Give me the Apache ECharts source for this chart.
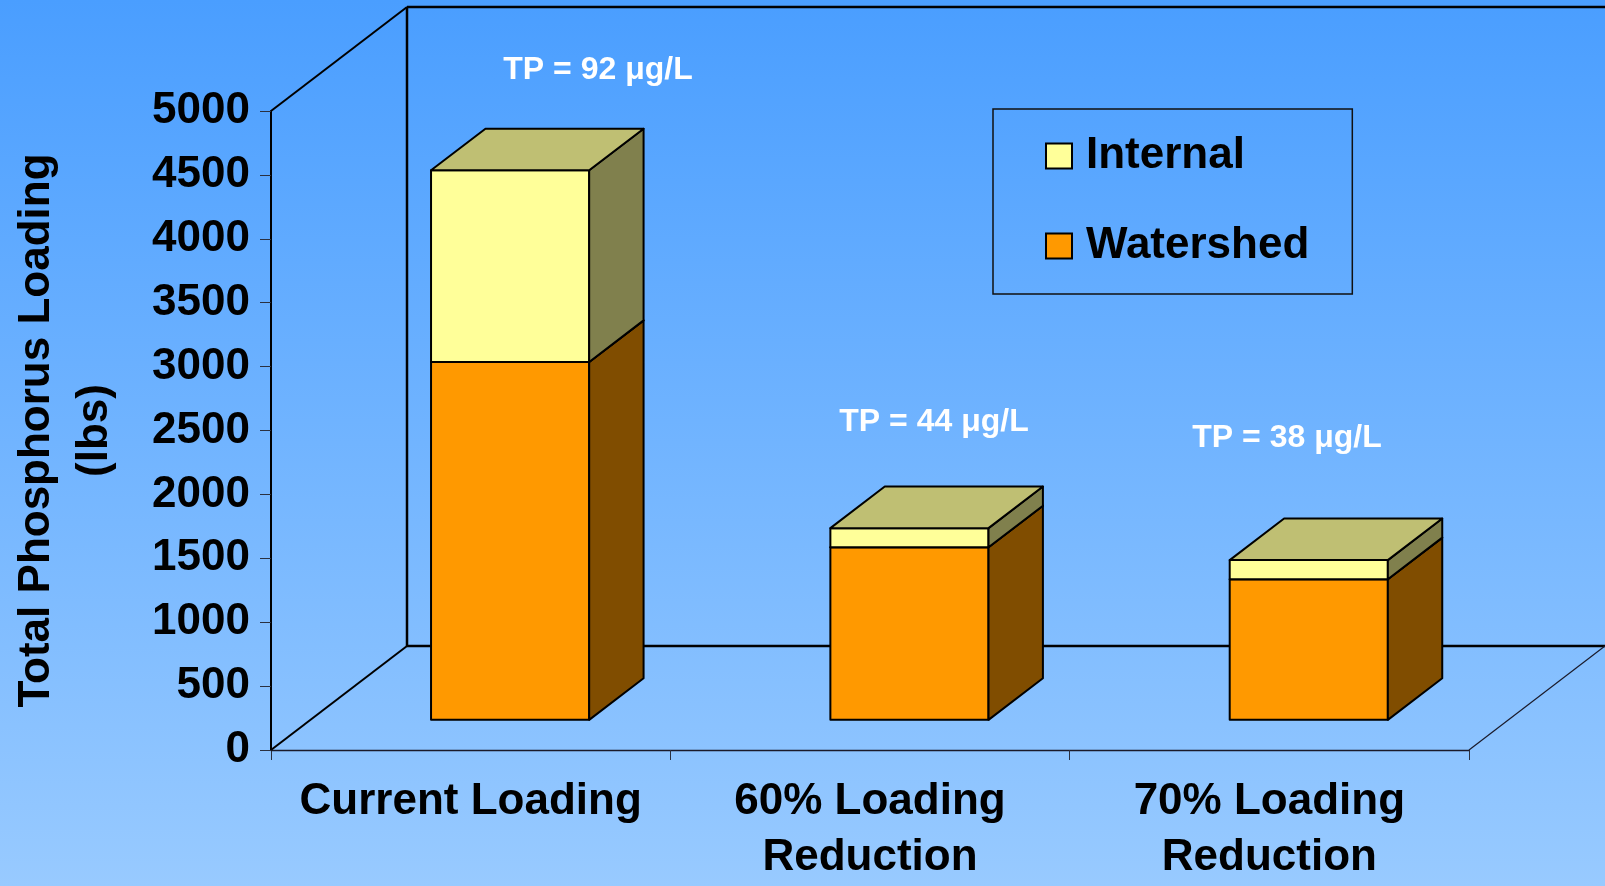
<!DOCTYPE html>
<html>
<head>
<meta charset="utf-8">
<script src="https://cdn.jsdelivr.net/npm/echarts@6/dist/echarts.min.js"></script>
<style>
html,body{margin:0;padding:0;width:1605px;height:886px;overflow:hidden;}
#chart{width:1605px;height:886px;}
</style>
</head>
<body>
<div id="chart"></div>
<script>
// ---- data ----
const categories = ['Current Loading', '60% Loading\nReduction', '70% Loading\nReduction'];
const watershed = [2800, 1350, 1100];
const internal = [1500, 150, 150];
const tpLabels = ['TP = 92 μg/L', 'TP = 44 μg/L', 'TP = 38 μg/L'];
const yMin = 0, yMax = 5000, yStep = 500;
const seriesNames = ['Internal', 'Watershed'];

// ---- layout / style constants ----
const FONT = 'Liberation Sans, Arial, Helvetica, sans-serif';
const DX = 136, DY = -104;      // depth of the 3D box (pixels)
const F0 = 0.29, F1 = 0.69;     // bar front/back depth fractions
const BW = 0.396;               // bar width as fraction of band
const colWater = {front: '#FF9900', side: '#804D00', top: '#BF7300'};
const colInt = {front: '#FFFF99', side: '#80804D', top: '#BFBF73'};

const chart = echarts.init(document.getElementById('chart'));

function boxShape(api, idx, v0, v1, col) {
  const band = api.size([1, 0])[0];
  const c0 = api.coord([idx, v0]);
  const c1 = api.coord([idx, v1]);
  const cx = c0[0] + F0 * DX;
  const half = BW * band / 2;
  const xl = cx - half, xr = cx + half;
  const yb = c0[1] + F0 * DY, yt = c1[1] + F0 * DY;
  const sdx = (F1 - F0) * DX, sdy = (F1 - F0) * DY;
  const st = {stroke: '#000', lineWidth: 2, lineJoin: 'round'};
  return {
    type: 'group',
    children: [
      {type: 'polygon', shape: {points: [[xl, yb], [xr, yb], [xr, yt], [xl, yt]]},
       style: Object.assign({fill: col.front}, st)},
      {type: 'polygon', shape: {points: [[xr, yb], [xr + sdx, yb + sdy], [xr + sdx, yt + sdy], [xr, yt]]},
       style: Object.assign({fill: col.side}, st)},
      {type: 'polygon', shape: {points: [[xl, yt], [xr, yt], [xr + sdx, yt + sdy], [xl + sdx, yt + sdy]]},
       style: Object.assign({fill: col.top}, st)}
    ]
  };
}

function wallsRender(params, api) {
  const band = api.size([1, 0])[0];
  const p0 = api.coord([0, yMin]);
  const x0 = p0[0] - band / 2, y0 = p0[1];
  const x1 = api.coord([categories.length - 1, yMin])[0] + band / 2;
  const yT = api.coord([0, yMax])[1];
  const thick = {stroke: '#000', lineWidth: 2.5};
  const mid = {stroke: '#000', lineWidth: 2};
  const thin = {stroke: '#1a1a2a', lineWidth: 1.2};
  const ln = (a, b, s) => ({type: 'line', shape: {x1: a[0], y1: a[1], x2: b[0], y2: b[1]}, style: s});
  return {
    type: 'group',
    children: [
      ln([x0, yT], [x0 + DX, yT + DY], mid),
      ln([x0 + DX, y0 + DY], [x0 + DX, yT + DY], thick),
      ln([x0 + DX, yT + DY], [x1 + DX + 5, yT + DY], thick),
      ln([x0, y0], [x0 + DX, y0 + DY], mid),
      ln([x0 + DX, y0 + DY], [x1 + DX + 5, y0 + DY], thick),
      ln([x1, y0], [x1 + DX, y0 + DY], thin)
    ]
  };
}

const tpStyle = (t) => ({text: t, fill: '#fff', font: 'bold 32px ' + FONT, textAlign: 'center', textVerticalAlign: 'middle', align: 'center', verticalAlign: 'middle'});

const option = {
  backgroundColor: new echarts.graphic.LinearGradient(0, 0, 0, 1, [
    {offset: 0, color: '#4A9EFF'},
    {offset: 1, color: '#98CAFF'}
  ]),
  animation: false,
  textStyle: {fontFamily: FONT},
  grid: {left: 266, right: 136, top: 111, bottom: 126, containLabel: false},
  legend: {
    data: seriesNames,
    orient: 'vertical',
    left: 993, top: 109,
    padding: [25, 43, 26, 52],
    itemGap: 46,
    itemWidth: 26, itemHeight: 25,
    icon: 'rect',
    itemStyle: {borderColor: '#000', borderWidth: 2},
    borderColor: '#111', borderWidth: 1.5,
    backgroundColor: 'transparent',
    textStyle: {fontFamily: FONT, fontSize: 44, fontWeight: 'bold', color: '#000', lineHeight: 44, padding: [0, 0, 0, 9]}
  },
  xAxis: {
    type: 'category',
    data: categories,
    boundaryGap: true,
    axisLine: {show: true, lineStyle: {color: '#1a1a2a', width: 1.3}},
    axisTick: {show: true, length: 10, lineStyle: {color: '#2a3040', width: 1}},
    axisLabel: {interval: 0, fontFamily: FONT, fontSize: 44, fontWeight: 'bold', color: '#000', lineHeight: 56, margin: 24},
    splitLine: {show: false}
  },
  yAxis: {
    type: 'value',
    min: yMin, max: yMax, interval: yStep,
    name: 'Total Phosphorus Loading\n(lbs)',
    nameLocation: 'middle',
    nameGap: 147,
    nameTextStyle: {fontFamily: FONT, fontSize: 44, fontWeight: 'bold', color: '#000', lineHeight: 58, align: 'center'},
    axisLine: {show: true, lineStyle: {color: '#000', width: 2}},
    axisTick: {show: true, length: 11, lineStyle: {color: '#2a3040', width: 1}},
    axisLabel: {formatter: (v) => String(v), fontFamily: FONT, fontSize: 44, fontWeight: 'bold', color: '#000', margin: 21},
    splitLine: {show: false}
  },
  graphic: [
    {type: 'text', x: 598, y: 70, z: 100, style: tpStyle(tpLabels[0])},
    {type: 'text', x: 934, y: 422, z: 100, style: tpStyle(tpLabels[1])},
    {type: 'text', x: 1287, y: 438, z: 100, style: tpStyle(tpLabels[2])}
  ],
  series: [
    {
      name: 'walls', type: 'custom', silent: true, clip: false, z: 1,
      data: [[0, 0]],
      encode: {x: 0, y: 1},
      renderItem: wallsRender
    },
    {
      name: 'Watershed', type: 'custom', clip: false, z: 3,
      itemStyle: {color: colWater.front},
      data: watershed.map((v, i) => [i, v]),
      encode: {x: 0, y: 1},
      renderItem: (params, api) => boxShape(api, api.value(0), 0, api.value(1), colWater)
    },
    {
      name: 'Internal', type: 'custom', clip: false, z: 4,
      itemStyle: {color: colInt.front},
      data: internal.map((v, i) => [i, watershed[i], watershed[i] + v]),
      encode: {x: 0, y: 2},
      renderItem: (params, api) => boxShape(api, api.value(0), api.value(1), api.value(2), colInt)
    }
  ]
};
chart.setOption(option);
</script>
</body>
</html>
